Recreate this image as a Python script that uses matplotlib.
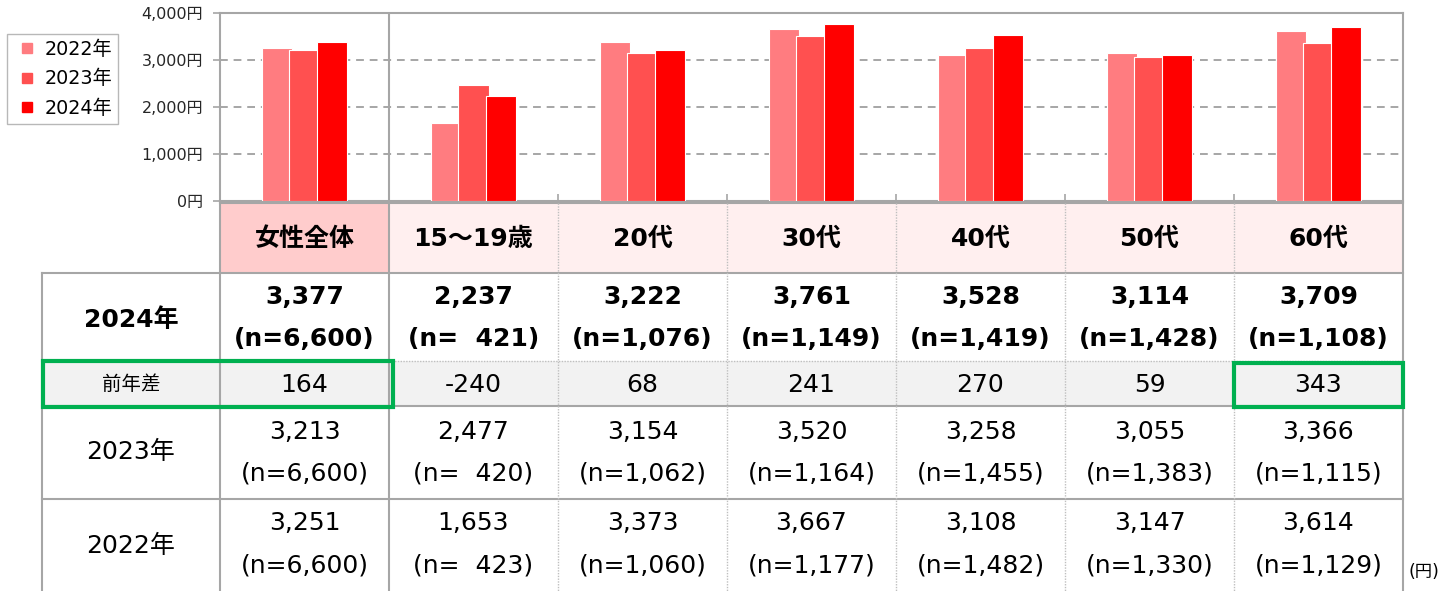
import numpy as np
import matplotlib
matplotlib.use("Agg")
import matplotlib.pyplot as plt
from matplotlib.patches import Rectangle
from matplotlib.lines import Line2D

plt.rcParams['font.family'] = ['DejaVu Sans', 'Noto Sans CJK JP']

groups = ['女性全体', '15～19歳', '20代', '30代', '40代', '50代', '60代']
years = ['2022年', '2023年', '2024年']
v2022 = [3251, 1653, 3373, 3667, 3108, 3147, 3614]
v2023 = [3213, 2477, 3154, 3520, 3258, 3055, 3366]
v2024 = [3377, 2237, 3222, 3761, 3528, 3114, 3709]
n2022 = [6600, 423, 1060, 1177, 1482, 1330, 1129]
n2023 = [6600, 420, 1062, 1164, 1455, 1383, 1115]
n2024 = [6600, 421, 1076, 1149, 1419, 1428, 1108]
diff = [164, -240, 68, 241, 270, 59, 343]
yticks = [0, 1000, 2000, 3000, 4000]
bar_colors = ['#FF7C80', '#FF5050', '#FF0000']

W, H = 1450, 591
GRAY = '#A6A6A6'
fig = plt.figure(figsize=(W / 100, H / 100), dpi=100)

# table drawn in pixel coords on a full-figure axes
tab = fig.add_axes([0, 0, 1, 1], zorder=0)
tab.set_xlim(0, W)
tab.set_ylim(H, 0)
tab.axis('off')

col_edges = [42, 220, 389, 558, 727, 896, 1065, 1234, 1403]
top, r1, r2, r3, r4 = 203, 273, 361, 406, 499

# backgrounds
for i in range(len(groups)):
    x0 = col_edges[i + 1]
    fc = '#FFCCCC' if i == 0 else '#FFEFEF'
    tab.add_patch(Rectangle((x0, top), col_edges[i + 2] - x0, r1 - top, fc=fc, ec='none'))
tab.add_patch(Rectangle((42, r2), 1403 - 42, r3 - r2, fc='#F2F2F2', ec='none'))

# grid lines
solid = dict(color=GRAY, lw=1.5)
dot = dict(color='#BFBFBF', lw=1.0, ls=(0, (1, 1)))
tab.plot([220, 1403], [top, top], **solid)
for y in [r1, r3, r4]:
    tab.plot([42, 1403], [y, y], **solid)
tab.plot([42, 389], [r2, r2], **solid)
tab.plot([389, 1403], [r2, r2], **dot)
tab.plot([42, 42], [r1, H], **solid)
for x in [220, 389, 1403]:
    tab.plot([x, x], [top, H], **solid)
for x in col_edges[3:-1]:
    tab.plot([x, x], [top, H], **dot)

# texts
lab_x = (col_edges[0] + col_edges[1]) / 2
fs = 18
tab.text(lab_x, 320, '2024年', ha='center', va='center', fontsize=fs, fontweight='bold')
tab.text(lab_x, 384, '前年差', ha='center', va='center', fontsize=14)
tab.text(lab_x, 452, '2023年', ha='center', va='center', fontsize=fs)
tab.text(lab_x, 546, '2022年', ha='center', va='center', fontsize=fs)
for i, g in enumerate(groups):
    cx = (col_edges[i + 1] + col_edges[i + 2]) / 2
    tab.text(cx, 239, g, ha='center', va='center', fontsize=fs, fontweight='bold')
    tab.text(cx, 297, f'{v2024[i]:,}', ha='center', va='center', fontsize=fs, fontweight='bold')
    tab.text(cx, 339, f'(n={n2024[i]:>5,})', ha='center', va='center', fontsize=fs, fontweight='bold')
    tab.text(cx, 385, f'{diff[i]}', ha='center', va='center', fontsize=fs)
    tab.text(cx, 432, f'{v2023[i]:,}', ha='center', va='center', fontsize=fs)
    tab.text(cx, 474, f'(n={n2023[i]:>5,})', ha='center', va='center', fontsize=fs)
    tab.text(cx, 523, f'{v2022[i]:,}', ha='center', va='center', fontsize=fs)
    tab.text(cx, 565, f'(n={n2022[i]:>5,})', ha='center', va='center', fontsize=fs)
tab.text(1409, 572, '(円)', ha='left', va='center', fontsize=12.5)

# highlight boxes
green = '#00B050'
tab.add_patch(Rectangle((43, r2), 350, r3 - r2 + 1, fill=False, ec=green, lw=3, zorder=5))
tab.add_patch(Rectangle((1234, r2 + 2), 169, r3 - r2 - 1, fill=False, ec=green, lw=3, zorder=5))

# bar chart
ax = fig.add_axes([220 / W, 1 - 201 / H, (1403 - 220) / W, (201 - 13) / H], zorder=2)
x = np.arange(len(groups)) + 0.5
for k, vals in enumerate([v2022, v2023, v2024]):
    ax.bar(x + (k - 1) * 0.163, vals, width=0.178, color=bar_colors[k],
           edgecolor='white', linewidth=0.8, zorder=3)
ax.set_xlim(0, len(groups))
ax.set_ylim(0, 4000)
ax.set_yticks(yticks)
ax.set_yticklabels([f'{v:,}円' for v in yticks], fontsize=11.5, color='#262626')
ax.set_xticks(np.arange(1, len(groups)))
ax.set_xticklabels([])
ax.tick_params(axis='x', direction='in', length=5, color=GRAY, width=1.2)
ax.tick_params(axis='y', direction='out', length=5, color=GRAY, width=1.2, pad=7)
ax.yaxis.grid(True, ls=(0, (4, 3)), color=GRAY, lw=1.4, zorder=0)
ax.set_axisbelow(True)
for s in ax.spines.values():
    s.set_color(GRAY)
    s.set_linewidth(1.5)
ax.axvline(1, color=GRAY, lw=1.5, zorder=1)

handles = [Line2D([], [], ls='none', marker='s', markersize=7, color=c) for c in bar_colors]
fig.legend(handles, years, loc='upper left', bbox_to_anchor=(7 / W, 1 - 34 / H),
           frameon=True, fancybox=False, edgecolor=GRAY, fontsize=13.8,
           handlelength=1.5, handletextpad=0.15, labelspacing=0.55,
           borderpad=0.3, borderaxespad=0)

fig.savefig('out.png', dpi=100, facecolor='white')
